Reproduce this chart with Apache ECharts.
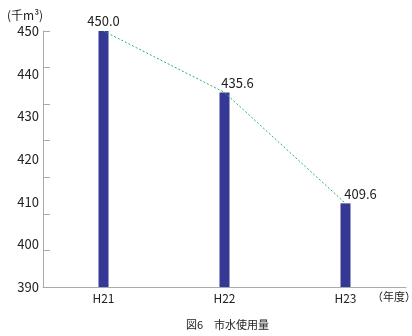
<html lang="ja">
<head>
<meta charset="UTF-8">
<title>図6 市水使用量</title>
<style>
  html, body { margin: 0; padding: 0; background: #fff; }
  #chart { width: 412px; height: 336px; }
</style>
</head>
<body>
<div id="chart"></div>
<script src="https://cdn.jsdelivr.net/npm/echarts@6/dist/echarts.min.js"></script>
<script>
// データ
const years = ['H21', 'H22', 'H23']
const usage = [450.0, 435.6, 409.6]
const yTicks = [390, 400, 410, 420, 430, 440, 450]

const font = '"Noto Sans CJK JP", "Noto Sans", sans-serif'
const barColor = '#363896'
const lineColor = '#2fb060'
const axisColor = '#aaaaaa'

// ラベルの横ずれ（元の図に合わせる）
const labelShift = [0, 13, 15]

const chart = echarts.init(document.getElementById('chart'))

chart.setOption({
  animation: false,
  textStyle: { fontFamily: font },
  grid: { left: 43, right: 6, top: 31, bottom: 49 },
  xAxis: {
    type: 'category',
    data: years,
    boundaryGap: true,
    axisLine: { lineStyle: { color: axisColor } },
    axisTick: { inside: true, length: 6, lineStyle: { color: axisColor } },
    axisLabel: { color: '#222', fontSize: 12, margin: 5, fontFamily: font }
  },
  yAxis: [{
    type: 'value',
    min: yTicks[0],
    max: yTicks[yTicks.length - 1],
    interval: 10,
    axisLine: { show: true, lineStyle: { color: axisColor } },
    axisTick: { show: false },
    splitLine: { show: false },
    axisLabel: { color: '#222', fontSize: 13, margin: 4, fontFamily: font }
  }, {
    // 元の図の目盛り線（ラベルとずれている）
    type: 'value',
    min: 0,
    max: 7,
    interval: 1,
    position: 'left',
    axisLine: { show: false },
    axisTick: { show: true, inside: true, length: 7, lineStyle: { color: axisColor } },
    axisLabel: { show: false },
    splitLine: { show: false }
  }],
  series: [{
    type: 'bar',
    yAxisIndex: 0,
    barWidth: 10,
    itemStyle: { color: barColor },
    data: usage.map((v, i) => ({
      value: v,
      label: {
        show: true,
        position: 'top',
        distance: 3,
        offset: [labelShift[i], 0],
        formatter: p => p.value.toFixed(1),
        color: '#222',
        fontSize: 13,
        fontFamily: font
      }
    }))
  }, {
    type: 'line',
    yAxisIndex: 0,
    data: usage,
    symbol: 'none',
    lineStyle: { color: lineColor, width: 1, type: [2, 2] },
    z: 3
  }],
  graphic: [{
    type: 'text',
    left: 7,
    top: 9,
    style: { text: '(千m³)', fontSize: 12, fill: '#222', fontFamily: font }
  }, {
    type: 'text',
    left: 372,
    top: 291,
    style: { text: '（年度）', fontSize: 11, fill: '#222', fontFamily: font }
  }, {
    type: 'text',
    left: 186,
    top: 319,
    style: { text: '図6　市水使用量', fontSize: 11, fill: '#222', fontFamily: font }
  }]
})
</script>
</body>
</html>
